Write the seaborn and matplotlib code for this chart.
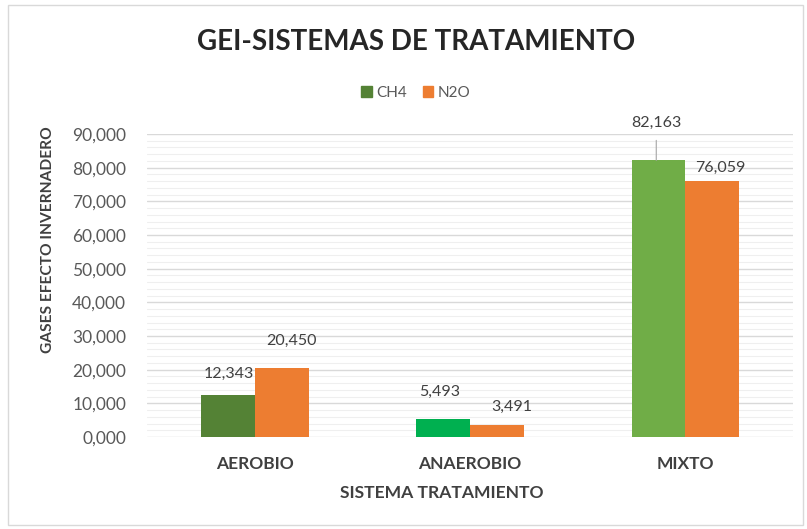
import matplotlib
matplotlib.use("Agg")
import matplotlib.pyplot as plt
import matplotlib.ticker as mticker
from matplotlib.patches import Rectangle, Patch
import seaborn as sns
import pandas as pd

categories = ["AEROBIO", "ANAEROBIO", "MIXTO"]
ch4 = [12.343, 5.493, 82.163]
n2o = [20.450, 3.491, 76.059]
series = ["CH4", "N2O"]

df = pd.DataFrame({
    "cat": categories * 2,
    "gas": ["CH4"] * 3 + ["N2O"] * 3,
    "val": ch4 + n2o,
})

sns.set_theme(style="white")
plt.rcParams["font.family"] = ["Lato", "DejaVu Sans"]

fig = plt.figure(figsize=(8.07, 5.29), dpi=100)
ax = fig.add_axes([147/807, 1-437/529, (793-147)/807, (437-134)/529])

palette = {"CH4": "#548235", "N2O": "#ED7D31"}
sns.barplot(data=df, x="cat", y="val", hue="gas", order=categories,
            hue_order=series, palette=palette, width=0.5, ax=ax,
            saturation=1, legend=False, errorbar=None, linewidth=0)

ch4_colors = ["#548235", "#00B050", "#70AD47"]
for p, c in zip(ax.containers[0], ch4_colors):
    p.set_facecolor(c)

ax.set_ylim(0, 90)
ax.set_xlim(-0.5, 2.5)
ax.yaxis.set_major_locator(mticker.MultipleLocator(10))
ax.yaxis.set_minor_locator(mticker.MultipleLocator(2))
ax.yaxis.set_major_formatter(mticker.FuncFormatter(lambda v, p: f"{v:.3f}".replace(".", ",")))
ax.grid(axis="y", which="major", color="#d9d9d9", lw=1.0)
ax.grid(axis="y", which="minor", color="#efefef", lw=0.8)
ax.set_axisbelow(True)
for s in ax.spines.values():
    s.set_visible(False)
ax.tick_params(axis="y", which="both", length=0, labelsize=12.5, labelcolor="#595959", pad=15)
ax.tick_params(axis="x", length=0, labelsize=12.5, labelcolor="#404040", pad=14)
for t in ax.get_xticklabels():
    t.set_fontweight("bold")
ax.set_xlabel("")
ax.set_ylabel("")

# data labels (offsets in pixels)
offsets = {
    (0, 0): (1, 22), (0, 1): (-3, 27), (0, 2): (-2, 37),
    (1, 0): (10, 27), (1, 1): (15, 18), (1, 2): (8, 13),
}
for si, cont in enumerate(ax.containers):
    for ci, bar in enumerate(cont):
        v = bar.get_height()
        x = bar.get_x() + bar.get_width() / 2
        dx, dy = offsets[(si, ci)]
        ax.annotate(f"{v:.3f}".replace(".", ","), xy=(x, v),
                    xytext=(dx * 0.72, dy * 0.72), textcoords="offset points",
                    ha="center", va="center", fontsize=11.5, color="#404040")
# leader line for the big CH4 label
b = ax.containers[0][2]
ax.annotate("", xy=(b.get_x() + b.get_width()/2 - 0.01, b.get_height()),
            xytext=(0, 20*0.72), textcoords="offset points",
            arrowprops=dict(arrowstyle="-", color="#a6a6a6", lw=0.8,
                            shrinkA=0, shrinkB=0))

fig.text(416/807, 1-42/529, "GEI-SISTEMAS DE TRATAMIENTO", ha="center", va="center",
         fontsize=20, fontweight="bold", color="#262626")
fig.text(48/807, 1-240/529, "GASES EFECTO INVERNADERO", ha="center", va="center",
         rotation=90, fontsize=11.2, fontweight="bold", color="#404040")
fig.text(442/807, 1-493/529, "SISTEMA TRATAMIENTO", ha="center", va="center",
         fontsize=12.6, fontweight="bold", color="#404040")

handles = [Patch(color="#548235", label="CH4"), Patch(color="#ED7D31", label="N2O")]
fig.legend(handles=handles, loc="center", bbox_to_anchor=(416/807, 1-93/529),
           ncol=2, frameon=False, fontsize=11, handlelength=0.7, handleheight=0.7,
           handletextpad=0.3, columnspacing=1.0, labelcolor="#595959")

fig.patches.append(Rectangle((8/807, 4/529), 795/807, 520/529, transform=fig.transFigure,
                             fill=False, edgecolor="#d9d9d9", lw=1))

fig.savefig("out.png", dpi=100)
